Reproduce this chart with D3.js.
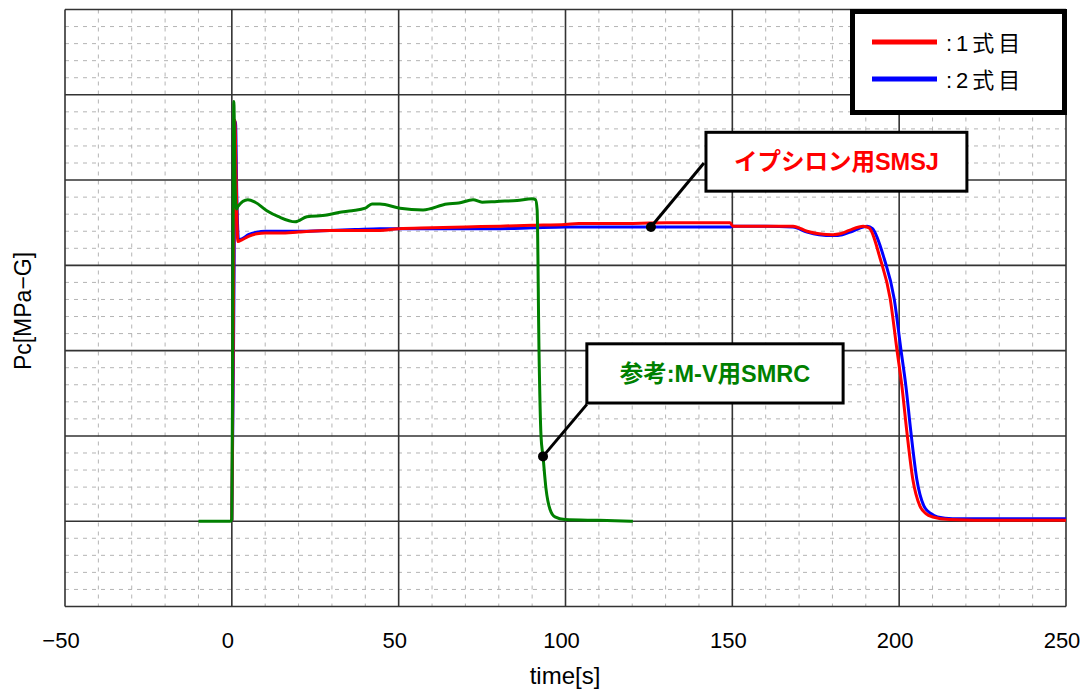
<!DOCTYPE html>
<html>
<head>
<meta charset="utf-8">
<script src="https://cdn.jsdelivr.net/npm/d3@7"></script>
<style>
  html, body { margin: 0; padding: 0; background: #fff; }
  svg { display: block; }
  text { font-family: "Liberation Sans", "Noto Sans CJK JP", sans-serif; }
</style>
</head>
<body>
<div id="chart"></div>
<script>
// series 1: イプシロン用SMSJ 1式目 (red)
var tRed = [0, 0.4, 0.9, 1.3, 1.8, 3, 5, 7.5, 10, 14.4, 20, 29.4, 37, 44.4, 50, 60, 70, 80.4, 90, 100, 104, 115, 130.4, 140, 149.3, 150.2, 160, 168.2, 172.4, 176, 180.2, 182.3, 185, 189.2, 191, 194.3, 197.3, 199.3, 200.8, 202.3, 204.1, 206.2, 208, 210.1, 215, 230, 250];
var pcRed = [0, 2.0, 4.70, 4.0, 3.28, 3.30, 3.34, 3.37, 3.38, 3.38, 3.39, 3.41, 3.41, 3.41, 3.43, 3.44, 3.45, 3.46, 3.47, 3.48, 3.49, 3.49, 3.50, 3.50, 3.50, 3.46, 3.46, 3.46, 3.40, 3.37, 3.36, 3.37, 3.41, 3.46, 3.44, 3.08, 2.61, 2.02, 1.59, 1.05, 0.49, 0.18, 0.09, 0.05, 0.02, 0.01, 0.01];

// series 2: 2式目 (blue)
var tBlue = [0, 0.5, 1.1, 1.5, 2.0, 3, 5, 7.5, 10, 14.4, 20, 29.4, 37, 44.4, 50, 60, 70, 80.4, 90, 100, 115, 130.4, 140, 149.3, 150.2, 160, 168.2, 172.4, 176, 180.2, 183, 186, 190.4, 192, 195.5, 198.5, 200.5, 202, 203.5, 205.3, 207.4, 209.5, 211.5, 216, 230, 250];
var pcBlue = [0, 2.0, 4.68, 3.8, 3.30, 3.31, 3.36, 3.39, 3.40, 3.40, 3.40, 3.41, 3.42, 3.43, 3.43, 3.43, 3.43, 3.43, 3.44, 3.45, 3.45, 3.45, 3.45, 3.45, 3.46, 3.46, 3.45, 3.39, 3.36, 3.35, 3.36, 3.40, 3.46, 3.43, 3.08, 2.61, 2.02, 1.59, 1.05, 0.49, 0.18, 0.09, 0.05, 0.03, 0.03, 0.03];

// reference: M-V用SMRC (green)
var tGreen = [-10, -0.5, 0, 0.3, 0.6, 1.0, 1.4, 1.8, 4.8, 7, 10.5, 14, 19, 22.5, 28.5, 32, 36, 40, 42, 44.4, 50.4, 57.3, 64.5, 68, 72.3, 75, 79.5, 85.5, 90, 91, 91.5, 92.06, 92.66, 93.26, 94.16, 95.35, 96.85, 99.85, 110, 120.2];
var pcGreen = [0, 0, 0.02, 2.5, 4.92, 3.9, 3.66, 3.69, 3.77, 3.74, 3.64, 3.57, 3.51, 3.57, 3.59, 3.62, 3.64, 3.67, 3.72, 3.72, 3.67, 3.65, 3.72, 3.73, 3.77, 3.74, 3.75, 3.76, 3.78, 3.77, 3.65, 2.0, 1.0, 0.76, 0.38, 0.14, 0.05, 0.02, 0.01, 0.0];

var xTicks = [-50, 0, 50, 100, 150, 200, 250];
var legendLabels = [':1式目', ':2式目'];
var calloutLabels = ['イプシロン用SMSJ', '参考:M-V用SMRC'];

var W = 1086, H = 689;
var margin = { left: 65, right: 20, top: 9.5, bottom: 82.5 };
var innerW = W - margin.left - margin.right;
var innerH = H - margin.top - margin.bottom;

var x = d3.scaleLinear().domain([-50, 250]).range([0, innerW]);
var y = d3.scaleLinear().domain([-1, 6]).range([innerH, 0]);

var svg = d3.select('#chart').append('svg').attr('width', W).attr('height', H);
var g = svg.append('g').attr('transform', `translate(${margin.left},${margin.top})`);

// minor grid (dashed)
var minorX = d3.range(-50, 251, 10).filter(d => d % 50 !== 0);
var minorY = d3.range(-1, 6.001, 0.2).filter(d => Math.abs(d - Math.round(d)) > 0.01);
g.append('g').selectAll('line').data(minorX).enter().append('line')
  .attr('x1', d => x(d)).attr('x2', d => x(d)).attr('y1', 0).attr('y2', innerH)
  .attr('stroke', '#b4b4b4').attr('stroke-width', 1).attr('stroke-dasharray', '4,5');
g.append('g').selectAll('line').data(minorY).enter().append('line')
  .attr('x1', 0).attr('x2', innerW).attr('y1', d => y(d)).attr('y2', d => y(d))
  .attr('stroke', '#b4b4b4').attr('stroke-width', 1).attr('stroke-dasharray', '4,5');

// major grid
g.append('g').selectAll('line').data(xTicks).enter().append('line')
  .attr('x1', d => x(d)).attr('x2', d => x(d)).attr('y1', 0).attr('y2', innerH)
  .attr('stroke', '#333').attr('stroke-width', 1.6);
g.append('g').selectAll('line').data(d3.range(-1, 7)).enter().append('line')
  .attr('x1', 0).attr('x2', innerW).attr('y1', d => y(d)).attr('y2', d => y(d))
  .attr('stroke', '#333').attr('stroke-width', 1.6);

// x tick labels
g.append('g').selectAll('text').data(xTicks).enter().append('text')
  .attr('x', d => x(d) - 4).attr('y', innerH + 41)
  .attr('text-anchor', 'middle').attr('font-size', 22).attr('fill', '#000')
  .text(d => d < 0 ? '\u2212' + Math.abs(d) : d);

// axis titles
svg.append('text').attr('x', 565).attr('y', 684).attr('text-anchor', 'middle')
  .attr('font-size', 24).attr('font-family', '"Noto Sans CJK JP"').text('time[s]');
svg.append('text').attr('transform', 'translate(31,311) rotate(-90)').attr('text-anchor', 'middle')
  .attr('font-size', 23).attr('font-family', '"Noto Sans CJK JP"').text('Pc[MPa\u2212G]');

// curves
svg.append('defs').append('clipPath').attr('id', 'clip').append('rect')
  .attr('width', innerW).attr('height', innerH);
var line = d3.line().x(d => x(d[0])).y(d => y(d[1])).curve(d3.curveMonotoneX);
var plot = g.append('g').attr('clip-path', 'url(#clip)');
function addSeries(ts, vs, color) {
  plot.append('path').datum(d3.zip(ts, vs))
    .attr('fill', 'none').attr('stroke', color).attr('stroke-width', 3)
    .attr('stroke-linejoin', 'round').attr('d', line);
}
addSeries(tBlue, pcBlue, '#0000ff');
addSeries(tRed, pcRed, '#ff0000');
addSeries(tGreen, pcGreen, '#008000');

// callouts: anchor point on curve, leader end, box corners (data coords)
function callout(pt, end, box, label, color) {
  g.append('line').attr('x1', x(pt[0])).attr('y1', y(pt[1]))
    .attr('x2', x(end[0])).attr('y2', y(end[1]))
    .attr('stroke', '#000').attr('stroke-width', 3);
  g.append('circle').attr('cx', x(pt[0])).attr('cy', y(pt[1])).attr('r', 5).attr('fill', '#000');
  var x0 = x(box[0]), x1 = x(box[2]), y0 = y(box[1]), y1 = y(box[3]);
  g.append('rect').attr('x', x0).attr('y', y0).attr('width', x1 - x0).attr('height', y1 - y0)
    .attr('fill', '#fff').attr('stroke', '#000').attr('stroke-width', 3);
  g.append('text').attr('x', (x0 + x1) / 2).attr('y', (y0 + y1) / 2 + 8.5)
    .attr('text-anchor', 'middle').attr('font-size', 23.5).attr('font-weight', 'bold')
    .attr('fill', color).text(label);
}
callout([125.6, 3.45], [141.5, 4.2], [142.1, 4.56, 220.3, 3.87], calloutLabels[0], '#ff0000');
callout([93.26, 0.76], [106.4, 1.37], [106.4, 2.08, 183.2, 1.386], calloutLabels[1], '#008000');

// legend
var lg = svg.append('g');
lg.append('rect').attr('x', 852.5).attr('y', 11.5).attr('width', 212).attr('height', 101)
  .attr('fill', '#fff').attr('stroke', '#000').attr('stroke-width', 5);
var legendColors = ['#ff0000', '#0000ff'];
legendLabels.forEach(function (lab, i) {
  var ly = 42 + i * 37;
  lg.append('line').attr('x1', 872).attr('x2', 937).attr('y1', ly).attr('y2', ly)
    .attr('stroke', legendColors[i]).attr('stroke-width', 5);
  lg.append('text').attr('x', 946).attr('y', ly + 9).attr('font-size', 22)
    .attr('letter-spacing', 4).attr('font-family', '"Noto Sans CJK JP"').text(lab);
});
</script>
</body>
</html>
